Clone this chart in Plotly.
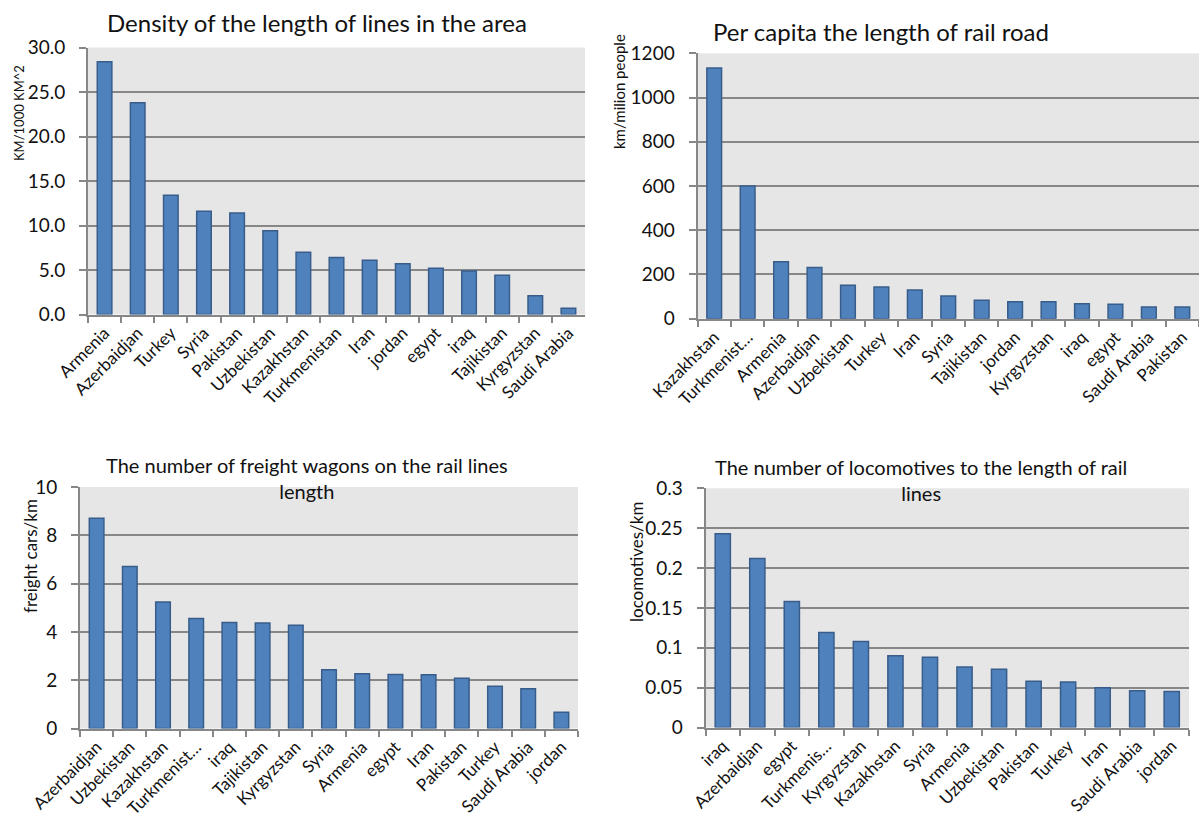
import plotly.graph_objects as go

# ---- data ----
density_countries = ["Armenia", "Azerbaidjan", "Turkey", "Syria", "Pakistan", "Uzbekistan",
                     "Kazakhstan", "Turkmenistan", "Iran", "jordan", "egypt", "iraq",
                     "Tajikistan", "Kyrgyzstan", "Saudi Arabia"]
density_values = [28.4, 23.8, 13.4, 11.6, 11.4, 9.4, 7.0, 6.4, 6.1, 5.7, 5.2, 4.9, 4.4, 2.1, 0.7]

percapita_countries = ["Kazakhstan", "Turkmenist…", "Armenia", "Azerbaidjan", "Uzbekistan",
                       "Turkey", "Iran", "Syria", "Tajikistan", "jordan", "Kyrgyzstan",
                       "iraq", "egypt", "Saudi Arabia", "Pakistan"]
percapita_values = [1134, 600, 258, 231, 151, 143, 130, 103, 83, 77, 77, 68, 65, 53, 53]

wagons_countries = ["Azerbaidjan", "Uzbekistan", "Kazakhstan", "Turkmenist…", "iraq",
                    "Tajikistan", "Kyrgyzstan", "Syria", "Armenia", "egypt", "Iran",
                    "Pakistan", "Turkey", "Saudi Arabia", "jordan"]
wagons_values = [8.71, 6.71, 5.24, 4.55, 4.39, 4.37, 4.28, 2.43, 2.27, 2.24, 2.23, 2.08, 1.75, 1.65, 0.67]

loco_countries = ["iraq", "Azerbaidjan", "egypt", "Turkmenis…", "Kyrgyzstan", "Kazakhstan",
                  "Syria", "Armenia", "Uzbekistan", "Pakistan", "Turkey", "Iran",
                  "Saudi Arabia", "jordan"]
loco_values = [0.243, 0.212, 0.158, 0.119, 0.108, 0.090, 0.088, 0.076, 0.073, 0.058, 0.057, 0.050, 0.046, 0.045]

titles = ["Density of the length of lines in the area",
          "Per capita the length of rail road",
          "The number of freight wagons on the rail lines<br>length",
          "The number of locomotives to the length of rail<br>lines"]
y_titles = ["KM/1000 KM^2", "km/milion people", "freight cars/km", "locomotives/km"]

# ---- styling ----
W, H = 1199, 818
FONT = "Lato, 'Open Sans', sans-serif"
BAR_FILL = "#4F81BD"
BAR_EDGE = "#385D8A"
PLOT_BG = "#E6E6E6"
GRID = "#878787"
TEXT = "#111111"


def px_x(v):
    return v / W


def px_y(v):
    return 1 - v / H


# panel boxes in pixels: (left, right, top, bottom)
boxes = [(88, 585, 47.5, 314.5), (697.5, 1199, 53.3, 318.7),
         (80, 578, 487, 728.5), (705.5, 1189, 488.3, 727.5)]
ranges = [[0, 30], [0, 1200], [0, 10], [0, 0.3]]
dticks = [5, 200, 2, 0.05]
tickfmts = [".1f", "", "", ""]

series = [(density_countries, density_values), (percapita_countries, percapita_values),
          (wagons_countries, wagons_values), (loco_countries, loco_values)]

fig = go.Figure()
layout = dict(
    width=W, height=H, margin=dict(l=0, r=0, t=0, b=0, autoexpand=False),
    paper_bgcolor="white", plot_bgcolor=PLOT_BG,
    showlegend=False, bargap=0.56,
    font=dict(family=FONT, color=TEXT),
)

for i, ((cats, vals), box) in enumerate(zip(series, boxes), start=1):
    xa = "x" if i == 1 else f"x{i}"
    ya = "y" if i == 1 else f"y{i}"
    fig.add_trace(go.Bar(
        x=cats, y=vals, xaxis=xa, yaxis=ya,
        marker=dict(color=BAR_FILL, line=dict(color=BAR_EDGE, width=1.5)),
    ))
    l, r, t, b = box
    layout["xaxis" if i == 1 else f"xaxis{i}"] = dict(
        domain=[px_x(l), px_x(r)], anchor=ya, automargin=False,
        type="category", tickangle=-45,
        showline=True, linecolor=GRID, linewidth=2,
        ticks="outside", tickson="boundaries", ticklen=6, tickcolor=GRID, tickwidth=1.5,
        showgrid=False, tickfont=dict(size=17, family=FONT, color=TEXT),
        fixedrange=True,
    )
    layout["yaxis" if i == 1 else f"yaxis{i}"] = dict(
        domain=[px_y(b), px_y(t)], anchor=xa, automargin=False,
        range=ranges[i - 1], dtick=dticks[i - 1], tick0=0, tickformat=tickfmts[i - 1],
        showline=True, linecolor=GRID, linewidth=2,
        ticks="outside", ticklen=7, tickcolor=GRID, tickwidth=1.5, ticklabelstandoff=10,
        showgrid=True, gridcolor=GRID, gridwidth=2, zeroline=False,
        tickfont=dict(size=19, family=FONT, color=TEXT),
        fixedrange=True,
    )

fig.update_layout(**layout)

# chart titles
title_pos = [(317, 23, 24), (881, 31, 24), (307, 478, 20), (921, 480, 20)]
for text, (cx, cy, fs) in zip(titles, title_pos):
    fig.add_annotation(text=text, x=px_x(cx), y=px_y(cy), xref="paper", yref="paper",
                       xanchor="center", yanchor="middle", showarrow=False,
                       font=dict(size=fs, family=FONT, color=TEXT))

# rotated axis titles
ytitle_pos = [(19, 113, 13), (619, 92, 15), (30, 556, 17), (636, 562, 17)]
for text, (cx, cy, fs) in zip(y_titles, ytitle_pos):
    fig.add_annotation(text=text, x=px_x(cx), y=px_y(cy), xref="paper", yref="paper",
                       xanchor="center", yanchor="middle", showarrow=False, textangle=-90,
                       font=dict(size=fs, family=FONT, color=TEXT))

fig.write_html("out.html")
